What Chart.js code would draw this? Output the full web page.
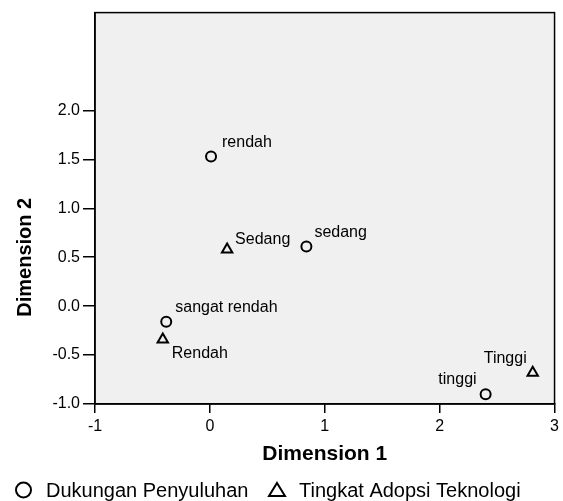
<!DOCTYPE html>
<html>
<head>
<meta charset="utf-8">
<script src="https://cdn.jsdelivr.net/npm/chart.js@4/dist/chart.umd.min.js"></script>
<style>
  html, body { margin: 0; padding: 0; background: #fff; }
  #wrap { width: 563px; height: 501px; }
</style>
</head>
<body>
<div id="wrap"><canvas id="c" width="563" height="501"></canvas></div>
<script>
// ---- data ----
const dukunganLabels = ['sangat rendah', 'rendah', 'sedang', 'tinggi'];
const dukunganX = [-0.38, 0.01, 0.84, 2.40];
const dukunganY = [-0.16, 1.53, 0.61, -0.90];

const adopsiLabels = ['Rendah', 'Sedang', 'Tinggi'];
const adopsiX = [-0.41, 0.15, 2.81];
const adopsiY = [-0.34, 0.58, -0.68];

const seriesNames = ['Dukungan Penyuluhan', 'Tingkat Adopsi Teknologi'];

const xTickValues = [-1, 0, 1, 2, 3];
const xTickLabels = ['-1', '0', '1', '2', '3'];
const yTickValues = [-1, -0.5, 0, 0.5, 1, 1.5, 2];
const yTickLabels = ['-1.0', '-0.5', '0.0', '0.5', '1.0', '1.5', '2.0'];

const xTitle = 'Dimension 1';
const yTitle = 'Dimension 2';

// ---- styling (label offsets relative to point, in px) ----
const dukunganLabelOffsets = [[9, -10, 'left'], [11, -9, 'left'], [8, -9, 'left'], [-9, -10, 'right']];
const adopsiLabelOffsets = [[9, 19, 'left'], [8, -5, 'left'], [-6, -10, 'right']];
const FONT = '"Liberation Sans", Arial, sans-serif';

const toPts = (xs, ys) => xs.map((x, i) => ({ x: x, y: ys[i] }));

const framePlugin = {
  id: 'frame',
  beforeDraw(chart) {
    const { ctx, chartArea: a } = chart;
    ctx.save();
    ctx.fillStyle = '#f0f0f0';
    ctx.fillRect(a.left, a.top, a.right - a.left, a.bottom - a.top);
    ctx.restore();
  },
  afterDraw(chart) {
    const { ctx, chartArea: a } = chart;
    ctx.save();
    ctx.strokeStyle = '#000';
    ctx.lineWidth = 1.5;
    ctx.strokeRect(a.left, a.top, a.right - a.left, a.bottom - a.top);
    // y axis title, centred on the tick range
    const ys = chart.scales.y;
    const cy = (ys.getPixelForValue(yTickValues[0]) + ys.getPixelForValue(yTickValues[yTickValues.length - 1])) / 2;
    ctx.translate(25, cy);
    ctx.rotate(-Math.PI / 2);
    ctx.fillStyle = '#000';
    ctx.font = 'bold 20px ' + FONT;
    ctx.textAlign = 'center';
    ctx.textBaseline = 'middle';
    ctx.fillText(yTitle, 0, 0);
    ctx.restore();
  }
};

const pointLabelPlugin = {
  id: 'pointLabels',
  afterDatasetsDraw(chart) {
    const { ctx } = chart;
    const sets = [[dukunganLabels, dukunganLabelOffsets], [adopsiLabels, adopsiLabelOffsets]];
    ctx.save();
    ctx.fillStyle = '#000';
    ctx.font = '16px ' + FONT;
    ctx.textBaseline = 'alphabetic';
    sets.forEach(([labels, offs], di) => {
      const meta = chart.getDatasetMeta(di);
      meta.data.forEach((el, i) => {
        const o = offs[i];
        ctx.textAlign = o[2];
        ctx.fillText(labels[i], el.x + o[0], el.y + o[1]);
      });
    });
    ctx.restore();
  }
};

const legendPlugin = {
  id: 'customLegend',
  afterDraw(chart) {
    const { ctx } = chart;
    const cy = 490;
    ctx.save();
    ctx.strokeStyle = '#000';
    ctx.lineWidth = 2;
    // circle
    ctx.beginPath();
    ctx.arc(23.5, cy, 7.5, 0, Math.PI * 2);
    ctx.stroke();
    // triangle
    const tx = 277, h = 13, w = 16;
    ctx.beginPath();
    ctx.moveTo(tx, cy - h / 2 - 0.5);
    ctx.lineTo(tx + w / 2, cy + h / 2 - 0.5);
    ctx.lineTo(tx - w / 2, cy + h / 2 - 0.5);
    ctx.closePath();
    ctx.stroke();
    ctx.fillStyle = '#000';
    ctx.font = '20px ' + FONT;
    ctx.textAlign = 'left';
    ctx.textBaseline = 'middle';
    ctx.fillText(seriesNames[0], 46, cy + 1);
    ctx.fillText(seriesNames[1], 299, cy + 1);
    ctx.restore();
  }
};

new Chart(document.getElementById('c'), {
  type: 'scatter',
  data: {
    datasets: [
      {
        label: seriesNames[0],
        data: toPts(dukunganX, dukunganY),
        pointStyle: 'circle',
        pointRadius: 5,
        pointBorderWidth: 2,
        pointBackgroundColor: 'rgba(0,0,0,0)',
        pointBorderColor: '#000'
      },
      {
        label: seriesNames[1],
        data: toPts(adopsiX, adopsiY),
        pointStyle: 'triangle',
        pointRadius: 6,
        pointBorderWidth: 2,
        pointBackgroundColor: 'rgba(0,0,0,0)',
        pointBorderColor: '#000'
      }
    ]
  },
  options: {
    responsive: false,
    animation: false,
    layout: { padding: { left: 0, top: 8, right: 8, bottom: 30 } },
    plugins: {
      legend: { display: false },
      tooltip: { enabled: false }
    },
    scales: {
      x: {
        type: 'linear',
        min: -1, max: 3,
        afterBuildTicks: (s) => { s.ticks = xTickValues.map(v => ({ value: v })); },
        afterFit: (s) => { s.height = 67; },
        ticks: {
          color: '#000',
          font: { family: FONT, size: 16 },
          padding: 4,
          maxRotation: 0,
          callback: (v, i) => xTickLabels[i]
        },
        grid: { drawOnChartArea: false, drawTicks: true, tickLength: 9, color: '#000', lineWidth: 1.5 },
        border: { display: true, color: '#000', width: 1.5 },
        title: {
          display: true,
          text: xTitle,
          color: '#000',
          font: { family: FONT, size: 21, weight: 'bold' },
          padding: { top: 0, bottom: 4 }
        }
      },
      y: {
        type: 'linear',
        min: -1, max: 3,
        afterBuildTicks: (s) => { s.ticks = yTickValues.map(v => ({ value: v })); },
        afterFit: (s) => { s.width = 95; },
        ticks: {
          color: '#000',
          font: { family: FONT, size: 16 },
          padding: 3,
          callback: (v, i) => yTickLabels[i]
        },
        grid: { drawOnChartArea: false, drawTicks: true, tickLength: 12, color: '#000', lineWidth: 1.5 },
        border: { display: true, color: '#000', width: 1.5 }
      }
    }
  },
  plugins: [framePlugin, pointLabelPlugin, legendPlugin]
});
</script>
</body>
</html>
